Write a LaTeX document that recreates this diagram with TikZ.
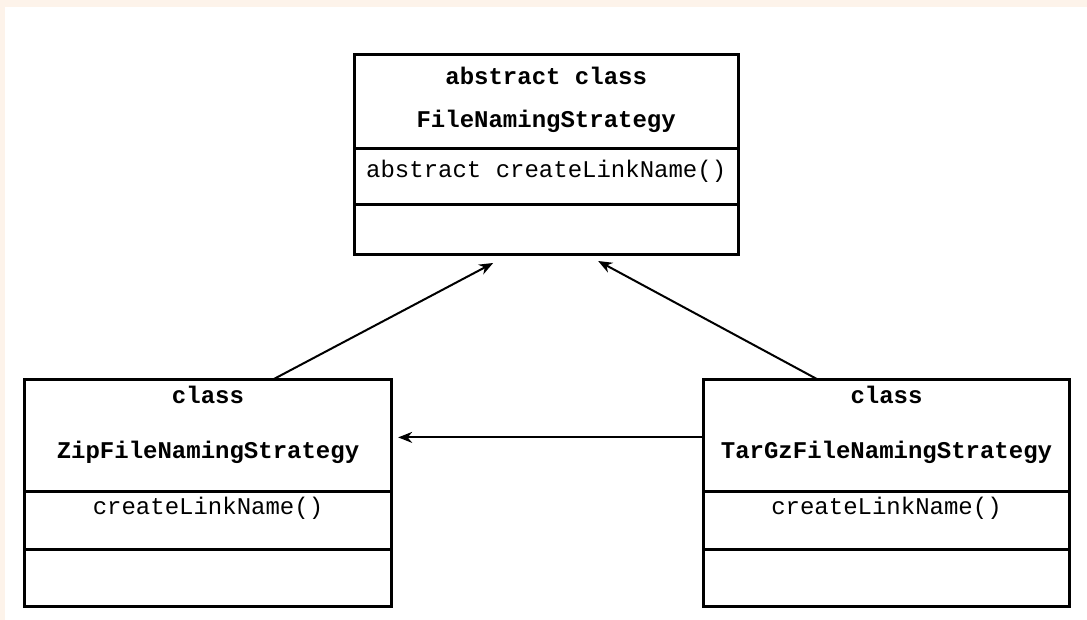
\documentclass[tikz,border=0pt]{standalone}
\usepackage{fontspec}
\setmonofont{Liberation Mono}
\usepackage{tikz}
\usetikzlibrary{arrows.meta,positioning,calc}
\definecolor{pagetint}{RGB}{253,243,234}

\begin{document}
\begin{tikzpicture}[
    x=1pt, y=-1pt,
    compart/.style={draw=black, line width=3pt, outer sep=0pt, inner sep=0pt},
    sidewd/.style={compart, minimum width=366.5pt},
    topwd/.style={compart, minimum width=383.7pt},
    kind/.style={font=\ttfamily\bfseries\fontsize{24}{28}\selectfont, anchor=base, inner sep=0pt},
    member/.style={font=\ttfamily\fontsize{24}{28}\selectfont, anchor=base, inner sep=0pt},
    inherits/.style={line width=2pt, -{Stealth[length=14pt,width=11pt]}}
]
\useasboundingbox (0,0) rectangle (1087,620);
\fill[pagetint] (0,0) rectangle (1087,620);
\fill[white] (5,7) rectangle (1087,620);

\node[topwd, minimum height=94pt, anchor=north west] (fnsHead) at (354.3,55) {};
\node[topwd, minimum height=55.2pt, below=0pt of fnsHead] (fnsOps) {};
\node[topwd, minimum height=50.8pt, below=0pt of fnsOps] (fnsAttr) {};

\node[sidewd, minimum height=111.8pt, anchor=north west] (zipHead) at (24.7,379.5) {};
\node[sidewd, minimum height=58.2pt, below=0pt of zipHead] (zipOps) {};
\node[sidewd, minimum height=57.2pt, below=0pt of zipOps] (zipAttr) {};

\node[sidewd, minimum height=111.8pt, anchor=north west] (tarHead) at (703,379.5) {};
\node[sidewd, minimum height=58.2pt, below=0pt of tarHead] (tarOps) {};
\node[sidewd, minimum height=57.2pt, below=0pt of tarOps] (tarAttr) {};

\node[kind] (fnsKind) at (546.2,85) {abstract class};
\node[kind] (fnsName) at (546.2,128) {FileNamingStrategy};
\node[member] (fnsLink) at (546.2,178) {abstract createLinkName()};

\node[kind] (zipKind) at (208,403) {class};
\node[kind] (zipName) at (208,458) {ZipFileNamingStrategy};
\node[member] (zipLink) at (208,514) {createLinkName()};

\node[kind] (tarKind) at (886.5,403) {class};
\node[kind] (tarName) at (886.5,458) {TarGzFileNamingStrategy};
\node[member] (tarLink) at (886.5,514) {createLinkName()};

\draw[inherits] ([xshift=65pt]zipHead.north) -- ([xshift=-53pt,yshift=-8pt]fnsAttr.south);
\draw[inherits] ([xshift=-68.5pt]tarHead.north) -- ([xshift=52pt,yshift=-6pt]fnsAttr.south);
\draw[inherits] ([yshift=-2pt]tarHead.west) -- ([xshift=7pt,yshift=-2pt]zipHead.east);
\end{tikzpicture}
\end{document}
